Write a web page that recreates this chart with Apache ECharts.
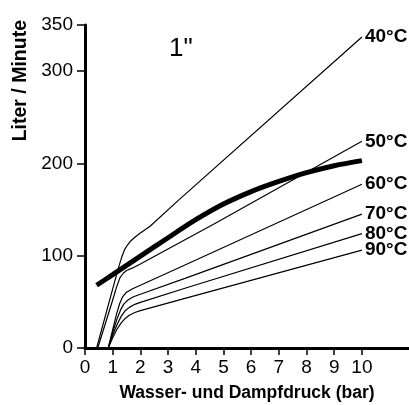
<!DOCTYPE html>
<html>
<head>
<meta charset="utf-8">
<script src="https://cdn.jsdelivr.net/npm/echarts@6/dist/echarts.min.js"></script>
<style>
  html, body { margin: 0; padding: 0; background: #fff; }
  #chart { width: 409px; height: 405px; }
</style>
</head>
<body>
<div id="chart"></div>
<script>
    // Druck (bar) / Durchfluss (Liter/Minute)
    var curve40 = [[0.42, 0], [1.0, 64], [1.2, 86], [1.32, 98], [1.42, 106], [1.52, 111], [1.65, 116], [1.8, 120], [2.0, 124.5], [2.35, 132], [3.37, 160], [10, 337]];
    var curve50 = [[0.46, 0], [1.0, 52], [1.15, 67], [1.26, 76], [1.38, 81], [1.5, 84], [1.7, 86.5], [2.0, 91], [4.69, 135], [10, 224]];
    var curve60 = [[0.84, 0], [1.0, 20], [1.15, 38], [1.25, 48], [1.35, 55], [1.5, 60.5], [1.7, 64], [2.0, 68], [3.61, 90], [10, 177.5]];
    var curve70 = [[0.84, 0], [1.0, 17], [1.15, 31], [1.28, 41], [1.4, 47.5], [1.55, 52], [1.75, 55.5], [2.0, 58.3], [3.61, 75.5], [10, 145]];
    var curve80 = [[0.84, 0], [1.0, 14], [1.15, 25], [1.3, 34], [1.44, 40], [1.6, 44], [1.8, 47.3], [2.0, 49.5], [3.61, 64.7], [10, 124]];
    var curve90 = [[0.84, 0], [1.0, 11], [1.15, 20], [1.3, 27], [1.45, 32], [1.6, 35.5], [1.8, 38.5], [2.0, 40.5], [3.61, 53.8], [10, 106]];
    var curveThick = [[0.42, 68], [1, 79.5], [2, 99.5], [3, 119.5], [4, 139], [5, 156], [6, 169.5], [7, 180.5], [8, 190], [9, 197.5], [10, 203]];

    var xTicks = [0, 1, 2, 3, 4, 5, 6, 7, 8, 9, 10];
    var yTicks = [0, 100, 200, 300, 350];
    var tempNames = ['40°C', '50°C', '60°C', '70°C', '80°C', '90°C'];
    var tempCurves = [curve40, curve50, curve60, curve70, curve80, curve90];

    var font = 'Liberation Sans, Arial, Helvetica, sans-serif';

    var series = tempCurves.map(function (c, i) {
        return {
            name: tempNames[i],
            type: 'line',
            data: c,
            showSymbol: false,
            lineStyle: { color: '#000', width: 1.2 },
            endLabel: {
                show: true,
                formatter: '{a}',
                color: '#000',
                fontFamily: font,
                fontWeight: 'bold',
                fontSize: 19,
                distance: 3
            }
        };
    });
    series.push({
        name: 'dick',
        type: 'line',
        data: curveThick,
        smooth: 0.3,
        showSymbol: false,
        lineStyle: { color: '#000', width: 5 }
    });

    var mychart = echarts.init(document.getElementById('chart'));
    mychart.setOption({
        animation: false,
        title: {
            text: '1"',
            left: 164,
            top: 31,
            textStyle: { fontFamily: font, fontWeight: 'normal', fontSize: 26, color: '#000' }
        },
        grid: { left: 85, right: 0, top: 25, bottom: 57, outerBoundsMode: 'none' },
        xAxis: {
            type: 'value',
            min: 0,
            max: 11.7,
            name: 'Wasser- und Dampfdruck (bar)',
            nameLocation: 'middle',
            nameGap: 36,
            nameTextStyle: { fontFamily: font, fontWeight: 'bold', fontSize: 17.5, color: '#000' },
            splitLine: { show: false },
            axisLine: { lineStyle: { color: '#000', width: 3 } },
            axisTick: { length: 7, lineStyle: { color: '#000', width: 1.5 }, customValues: xTicks },
            axisLabel: { customValues: xTicks, margin: 10, fontFamily: font, fontSize: 19, color: '#000' }
        },
        yAxis: {
            type: 'value',
            min: 0,
            max: 350,
            splitLine: { show: false },
            axisLine: { show: true, lineStyle: { color: '#000', width: 3 } },
            axisTick: { show: true, length: 8, lineStyle: { color: '#000', width: 1.5 }, customValues: yTicks },
            axisLabel: { customValues: yTicks, margin: 12, fontFamily: font, fontSize: 19, color: '#000' }
        },
        graphic: [{
            type: 'text',
            left: 11,
            top: 20,
            rotation: Math.PI / 2,
            style: {
                text: 'Liter / Minute',
                fontFamily: font,
                fontWeight: 'bold',
                fontSize: 19.5,
                fill: '#000'
            }
        }],
        series: series
    });
</script>
</body>
</html>
